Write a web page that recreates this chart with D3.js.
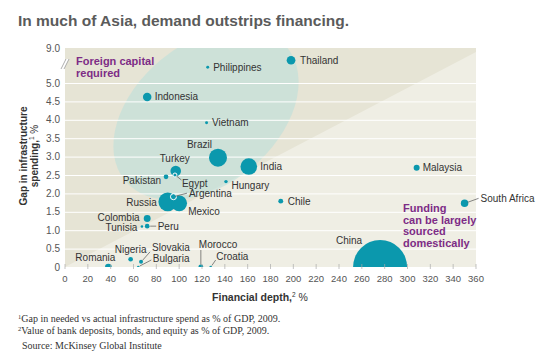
<!DOCTYPE html>
<html lang="en">
<head>
<meta charset="UTF-8">
<title>In much of Asia, demand outstrips financing.</title>
<style>
  body { margin: 0; background: #fff; }
  svg text { font-family: "Liberation Sans", Arial, sans-serif; }
  .foot { font-family: "Liberation Serif", "DejaVu Serif", serif; }
</style>
</head>
<body>
<svg id="chart" width="545" height="360"></svg>
<script src="https://d3js.org/d3.v7.min.js"></script>
<script>

    // chart data
    var countries = ["China", "Russia", "Brazil", "India", "Mexico", "Turkey", "Thailand", "Indonesia",
                     "South Africa", "Colombia", "Romania", "Malaysia", "Argentina", "Pakistan", "Peru",
                     "Chile", "Nigeria", "Morocco", "Egypt", "Slovakia", "Hungary", "Philippines",
                     "Vietnam", "Tunisia", "Bulgaria", "Croatia"];
    var depth   = [276, 90, 134, 161, 100, 97, 198, 72,
                   350, 72, 38, 308, 95, 88.5, 72,
                   189, 57.5, 119, 96.3, 66.6, 141, 125,
                   124, 67.4, 64.2, 127.6];
    var gap     = [0, 1.77, 2.97, 2.73, 1.73, 2.61, 7.6, 4.62,
                   1.73, 1.32, 0, 2.7, 1.91, 2.45, 1.11,
                   1.79, 0.21, 0, 2.5, 0.14, 2.32, 6.8,
                   3.92, 1.1, 0, 0];
    var bubble  = [729, 88, 81, 69, 62, 28, 19, 18,
                   14, 12, 11, 9, 9, 5.5, 5.5,
                   6, 5.5, 6, 4, 4, 3, 2.2,
                   2.2, 1.7, 1.7, 1.7];

    var xTicks = [0, 20, 40, 60, 80, 100, 120, 140, 160, 180, 200, 220, 240, 260, 280, 300, 320, 340, 360];
    var yTicks = [0, 0.5, 1, 1.5, 2, 2.5, 3, 3.5, 4, 4.5, 5, 9];
    var yTickLabels = ["0", "0.5", "1.0", "1.5", "2.0", "2.5", "3.0", "3.5", "4.0", "4.5", "5.0", "9.0"];

    // label placement: dx, dy from dot centre, anchor, optional leader [x1,y1,x2,y2]
    var labelPos = {
        "China":        [-31, -27, "middle"],
        "Russia":       [-11, 1, "end"],
        "Brazil":       [-6, -13, "end"],
        "India":        [11.5, 0, "start"],
        "Mexico":       [9, 8.5, "start"],
        "Turkey":       [-1, -12.5, "middle"],
        "Thailand":     [9, 0, "start"],
        "Indonesia":    [7.5, 0, "start"],
        "South Africa": [16, -5, "start", [3, -1, 14, -5]],
        "Colombia":     [-7.5, -0.5, "end"],
        "Romania":      [-13, -10, "middle"],
        "Malaysia":     [6, 0, "start"],
        "Argentina":    [15.5, -3.5, "start", [2, -0.5, 13.5, -3.5]],
        "Pakistan":     [-5, 3.5, "end"],
        "Peru":         [10.5, 0.5, "start", [3, 0, 9, 0]],
        "Chile":        [7, 0.5, "start"],
        "Nigeria":      [0, -10, "middle"],
        "Morocco":      [-2, -23, "start", [0, -2.5, 0, -17]],
        "Egypt":        [7, 8, "start", [1.5, 1, 6.5, 5]],
        "Slovakia":     [11, -14.5, "start", [1.5, -1.5, 9, -10]],
        "Hungary":      [5.5, 3.5, "start"],
        "Philippines":  [5.5, 0, "start"],
        "Vietnam":      [5.5, 0, "start"],
        "Tunisia":      [-4.5, 1, "end"],
        "Bulgaria":     [14.5, -8.5, "start", [1.5, -1, 13, -7]],
        "Croatia":      [5.5, -10.5, "start", [1.2, -1.5, 5, -7]]
    };

    var svg = d3.select("#chart"),
        plotL = 65, plotR = 476, plotT = 48, plotB = 267,
        teal = "#0b98ad";

    var x = d3.scaleLinear().domain([0, 360]).range([plotL, plotR]),
        y = d3.scaleLinear().domain([0, 5, 9]).range([plotB, 83, plotT]),   // broken axis above 5.0
        r = d3.scaleSqrt().domain([0, 729]).range([0, 27]);

    var points = countries.map(function (c, i) {
        return {name: c, depth: depth[i], gap: gap[i], size: bubble[i], emph: c === "Egypt" || c === "Argentina"};
    });

    // title
    svg.append("text")
        .attr("x", 18).attr("y", 26)
        .attr("font-size", 15.5).attr("font-weight", "bold").attr("fill", "#5b5b5b")
        .text("In much of Asia, demand outstrips financing.");

    svg.append("clipPath").attr("id", "plotclip")
        .append("rect").attr("x", plotL).attr("y", plotT).attr("width", plotR - plotL).attr("height", plotB - plotT);

    var plot = svg.append("g").attr("clip-path", "url(#plotclip)");

    // background zones
    plot.append("rect")
        .attr("x", plotL).attr("y", plotT).attr("width", plotR - plotL).attr("height", plotB - plotT)
        .attr("fill", "#e6e4d5");
    plot.append("path")
        .attr("d", "M" + plotL + "," + plotB + "L" + plotR + "," + (plotT + 4) + "L" + plotR + "," + plotB + "Z")
        .attr("fill", "#efeee4");
    // tilted "foreign capital" zone (sheared ellipse)
    plot.append("ellipse")
        .attr("cx", 0).attr("cy", 0).attr("rx", 86).attr("ry", 86)
        .attr("transform", "translate(206,114) matrix(1,0,-0.4,1,0,0)")
        .attr("fill", "#bcdfdb").attr("opacity", 0.6);

    // gridlines
    plot.selectAll(".grid")
        .data(yTicks.filter(function (d) { return d > 0 && d <= 5; }))
        .enter().append("line")
        .attr("x1", plotL).attr("x2", plotR)
        .attr("y1", function (d) { return y(d) + 0.5; })
        .attr("y2", function (d) { return y(d) + 0.5; })
        .attr("stroke", "#fff").attr("stroke-width", 1);

    // x ticks
    svg.selectAll(".xtick")
        .data(xTicks)
        .enter().append("line")
        .attr("x1", function (d) { return x(d); }).attr("x2", function (d) { return x(d); })
        .attr("y1", plotB - 3).attr("y2", plotB + 2)
        .attr("stroke", "#aaa").attr("stroke-width", 0.7);

    svg.selectAll(".xlab")
        .data(xTicks)
        .enter().append("text")
        .attr("x", function (d) { return x(d); }).attr("y", 282)
        .attr("text-anchor", "middle").attr("font-size", 9.5).attr("fill", "#555")
        .text(function (d) { return d; });

    svg.selectAll(".ylab")
        .data(yTicks)
        .enter().append("text")
        .attr("x", 60).attr("y", function (d) { return y(d) + 3.5; })
        .attr("text-anchor", "end").attr("font-size", 10).attr("fill", "#555")
        .text(function (d, i) { return yTickLabels[i]; });

    // axis break mark
    var brk = svg.append("g").attr("transform", "translate(66,64)");
    brk.append("path").attr("d", "M-5,5L0,-5L3,-5L-2,5Z").attr("fill", "#fff");
    brk.append("path").attr("d", "M-5,5L0,-5M-2,5L3,-5")
        .attr("stroke", "#999").attr("stroke-width", 0.8).attr("fill", "none");

    // axis titles
    var xt = svg.append("text")
        .attr("x", 260).attr("y", 301).attr("text-anchor", "middle")
        .attr("font-size", 10.5).attr("fill", "#333");
    xt.append("tspan").attr("font-weight", "bold").text("Financial depth,");
    xt.append("tspan").attr("font-size", 6.5).attr("dy", -4).text("2");
    xt.append("tspan").attr("dy", 4).text(" %");

    var yt = svg.append("g").attr("transform", "translate(27,156) rotate(-90)");
    yt.append("text").attr("x", 0).attr("y", 0).attr("text-anchor", "middle")
        .attr("font-size", 10).attr("font-weight", "bold").attr("fill", "#333")
        .text("Gap in infrastructure");
    var yt2 = yt.append("text").attr("x", 0).attr("y", 11).attr("text-anchor", "middle")
        .attr("font-size", 10).attr("fill", "#333");
    yt2.append("tspan").attr("font-weight", "bold").text("spending,");
    yt2.append("tspan").attr("font-size", 6.5).attr("dy", -4).text("1");
    yt2.append("tspan").attr("dy", 4).text(" %");

    // zone notes
    var purple = "#7d2c86";
    svg.selectAll(".note1")
        .data(["Foreign capital", "required"])
        .enter().append("text")
        .attr("x", 76).attr("y", function (d, i) { return 65 + i * 12; })
        .attr("font-size", 11).attr("font-weight", "bold").attr("fill", purple)
        .text(function (d) { return d; });
    svg.selectAll(".note2")
        .data(["Funding", "can be largely", "sourced", "domestically"])
        .enter().append("text")
        .attr("x", 403).attr("y", function (d, i) { return 212 + i * 11.5; })
        .attr("font-size", 11).attr("font-weight", "bold").attr("fill", purple)
        .text(function (d) { return d; });

    // bubbles, biggest first
    var sorted = points.slice().sort(function (a, b) { return b.size - a.size; });
    plot.selectAll(".dot")
        .data(sorted.filter(function (d) { return !d.emph; }))
        .enter().append("circle")
        .attr("cx", function (d) { return x(d.depth); })
        .attr("cy", function (d) { return y(d.gap); })
        .attr("r", function (d) { return r(d.size); })
        .attr("fill", teal);
    svg.selectAll(".dot2")
        .data(sorted.filter(function (d) { return d.emph; }))
        .enter().append("circle")
        .attr("cx", function (d) { return x(d.depth); })
        .attr("cy", function (d) { return y(d.gap); })
        .attr("r", function (d) { return r(d.size); })
        .attr("fill", teal).attr("stroke", "#fff").attr("stroke-width", 1);

    // leader lines
    svg.selectAll(".leader")
        .data(points.filter(function (d) { return labelPos[d.name][3]; }))
        .enter().append("line")
        .attr("x1", function (d) { return x(d.depth) + labelPos[d.name][3][0]; })
        .attr("y1", function (d) { return y(d.gap) + labelPos[d.name][3][1]; })
        .attr("x2", function (d) { return x(d.depth) + labelPos[d.name][3][2]; })
        .attr("y2", function (d) { return y(d.gap) + labelPos[d.name][3][3]; })
        .attr("stroke", "#555").attr("stroke-width", 0.7);

    // country labels
    svg.selectAll(".clab")
        .data(points)
        .enter().append("text")
        .attr("x", function (d) { return x(d.depth) + labelPos[d.name][0]; })
        .attr("y", function (d) { return y(d.gap) + labelPos[d.name][1] + 3.5; })
        .attr("text-anchor", function (d) { return labelPos[d.name][2]; })
        .attr("font-size", 10).attr("fill", "#333")
        .text(function (d) { return d.name; });

    // footnotes
    var notes = [
        {sup: "1", text: "Gap in needed vs actual infrastructure spend as % of GDP, 2009.", x: 18, y: 322},
        {sup: "2", text: "Value of bank deposits, bonds, and equity as % of GDP, 2009.", x: 18, y: 334},
        {sup: "", text: "Source: McKinsey Global Institute", x: 22, y: 349}
    ];
    notes.forEach(function (n) {
        var t = svg.append("text").attr("class", "foot")
            .attr("x", n.x).attr("y", n.y).attr("font-size", 10).attr("fill", "#333");
        if (n.sup) t.append("tspan").attr("font-size", 6.5).attr("dy", -3.5).text(n.sup);
        t.append("tspan").attr("dy", n.sup ? 3.5 : 0).text(n.text);
    });

</script>
</body>
</html>
